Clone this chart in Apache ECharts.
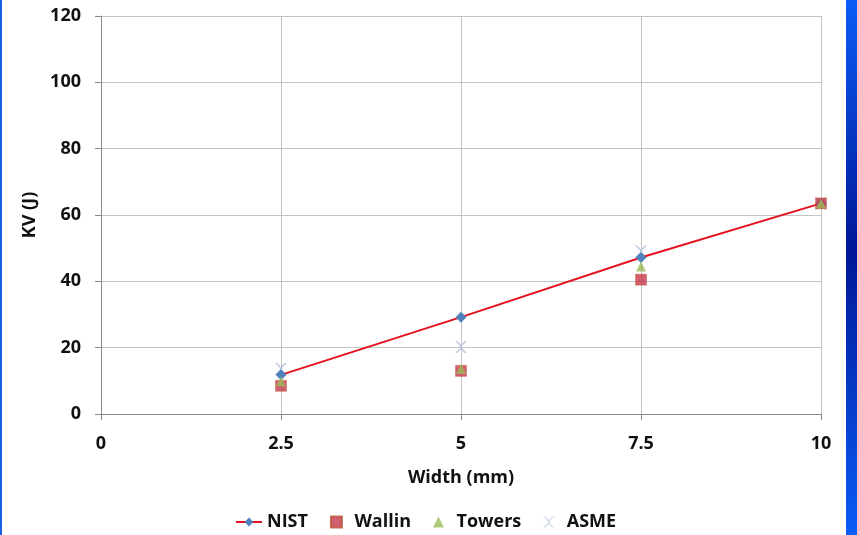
<!DOCTYPE html>
<html>
<head>
<meta charset="utf-8">
<script src="https://cdn.jsdelivr.net/npm/echarts@6/dist/echarts.min.js"></script>
<style>
  html, body { margin: 0; padding: 0; background: #ffffff; }
  #chart { width: 857px; height: 535px; }
</style>
</head>
<body>
<div id="chart"></div>
<script>
// Charpy energy versus specimen width for four sources
const widths = [2.5, 5, 7.5, 10];
const nist   = [11.8, 29.2, 47.2, 63.5];
const wallin = [8.5, 13.0, 40.5, 63.5];
const towers = [9.8, 13.6, 44.5, 63.5];
const asme   = [13.6, 20.2, 49.0, 63.5];
const xTicks = [0, 2.5, 5, 7.5, 10];
const yTicks = [0, 20, 40, 60, 80, 100, 120];

const pairs = ys => widths.map((w, i) => [w, ys[i]]);
const FONT = '"Open Sans"';
const TEXT = '#111111';
const crossPath = 'path://M0,0 L2,0 L5,3.2 L8,0 L10,0 L6,4.2 L6,5.8 L10,10 L8,10 L5,6.8 L2,10 L0,10 L4,5.8 L4,4.2 Z';
const squarePath = 'path://M0,0 L10,0 L10,10 L0,10 Z';
const trianglePath = 'path://M5,0 L10,10 L0,10 Z';

const chart = echarts.init(document.getElementById('chart'), null, { renderer: 'canvas' });
chart.setOption({
  backgroundColor: '#ffffff',
  animation: false,
  grid: { left: 101, right: 36, top: 16, bottom: 121, containLabel: false },
  xAxis: {
    type: 'value',
    min: xTicks[0], max: xTicks[xTicks.length - 1], interval: 2.5,
    name: 'Width (mm)', nameLocation: 'middle', nameGap: 55,
    nameTextStyle: { fontFamily: FONT, fontWeight: 'bold', fontSize: 18, color: TEXT },
    axisLine: { show: true, onZero: false, lineStyle: { color: '#878787', width: 1 } },
    axisTick: { show: true, length: 6, lineStyle: { color: '#878787' } },
    axisLabel: { fontFamily: FONT, fontWeight: 'bold', fontSize: 18, color: TEXT, margin: 21,
      formatter: v => String(v) },
    splitLine: { show: true, lineStyle: { color: '#c4c4c4', width: 1 } }
  },
  yAxis: {
    type: 'value',
    min: yTicks[0], max: yTicks[yTicks.length - 1], interval: 20,
    name: 'KV (J)', nameLocation: 'middle', nameGap: 62, nameRotate: 90,
    nameTextStyle: { fontFamily: FONT, fontWeight: 'bold', fontSize: 18, color: TEXT },
    axisLine: { show: true, lineStyle: { color: '#878787', width: 1 } },
    axisTick: { show: true, length: 6, lineStyle: { color: '#878787' } },
    axisLabel: { fontFamily: FONT, fontWeight: 'bold', fontSize: 18, color: TEXT, margin: 20 },
    splitLine: { show: true, lineStyle: { color: '#c4c4c4', width: 1 } }
  },
  legend: {
    left: 230, top: 508, itemGap: 22, itemWidth: 26, itemHeight: 11,
    symbolKeepAspect: true,
    textStyle: { fontFamily: FONT, fontWeight: 'bold', fontSize: 18, color: TEXT },
    data: [
      { name: 'NIST' },
      { name: 'Wallin', icon: squarePath, itemStyle: { color: '#c8374a' } },
      { name: 'Towers', icon: trianglePath, itemStyle: { color: '#9bbb59' } },
      { name: 'ASME', icon: crossPath, itemStyle: { color: '#ccd5e6' } }
    ]
  },
  series: [
    {
      name: 'NIST', type: 'line', data: pairs(nist), z: 2,
      symbol: 'diamond', symbolSize: 11,
      lineStyle: { color: '#e3121e', width: 2 },
      itemStyle: { color: '#4f81bd' }
    },
    {
      name: 'Wallin', type: 'scatter', data: pairs(wallin), z: 3,
      symbol: 'rect', symbolSize: 11,
      itemStyle: { color: '#c8374a', borderColor: '#b8543a', borderWidth: 0.5 }
    },
    {
      name: 'Towers', type: 'scatter', data: pairs(towers), z: 4,
      symbol: 'triangle', symbolSize: 10,
      itemStyle: { color: '#9bbb59' }
    },
    {
      name: 'ASME', type: 'scatter', data: pairs(asme), z: 1,
      symbol: crossPath, symbolSize: 12,
      itemStyle: { color: '#b4c2dc' }
    }
  ],
  graphic: [
    // slide frame: vertical blue band on the right and thin edge on the left
    {
      type: 'rect', silent: true, z: 100,
      shape: { x: 846, y: 0, width: 11, height: 535 },
      style: {
        fill: new echarts.graphic.LinearGradient(0, 0, 0, 1, [
          { offset: 0, color: '#0b5cf6' },
          { offset: 0.47, color: '#001796' },
          { offset: 1, color: '#0b5cf6' }
        ])
      }
    },
    {
      type: 'rect', silent: true, z: 100,
      shape: { x: 0, y: 0, width: 2, height: 535 },
      style: { fill: '#1d5ee8' }
    }
  ]
});
</script>
</body>
</html>
